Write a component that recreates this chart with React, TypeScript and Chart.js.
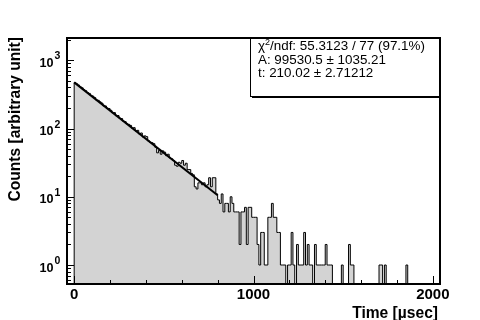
import React, { useEffect, useRef } from 'react';
import { Chart, registerables } from 'chart.js';

Chart.register(...registerables);

// ---- data ----
const binStart = 0;
const binWidth = 10;
const counts = [
  471, 452, 433, 408, 395, 370, 358, 336, 327, 305,
  298, 284, 262, 259, 246, 236, 215, 214, 198, 196,
  185, 170, 171, 154, 155, 141, 140, 128, 126, 117,
  115, 111, 101, 103, 92, 94, 83, 86, 75, 78,
  76, 66, 63, 62, 60, 53, 44, 48, 42, 47,
  45, 40, 42, 37, 36, 34, 29, 28, 32, 31,
  34, 29, 31, 25, 25, 22, 21, 14, 13, 16,
  16, 15, 16, 14, 15, 19, 14, 19, 19, 11,
  9, 8, 11, 6, 8, 8, 6, 10, 8, 6,
  6, 6, 2, 6, 6, 7, 2, 7, 7, 5,
  5, 5, 2, 1, 3, 3, 1, 1, 5, 5,
  8, 5, 5, 3, 3, 1, 1, 1, 0, 1,
  1, 3, 1, 0, 2, 1, 1, 1, 3, 1,
  2, 1, 1, 0, 2, 1, 1, 1, 1, 1,
  2, 1, 1, 1, 0, 0, 0, 0, 0, 1,
  0, 0, 0, 2, 1, 1, 0, 0, 0, 0,
  0, 0, 0, 0, 0, 0, 0, 0, 0, 0,
  1, 1, 0, 1, 0, 0, 0, 0, 0, 0,
  0, 0, 0, 0, 0, 1, 0, 0, 0, 0,
  0, 0, 0, 0, 0, 0, 0, 0, 0, 0,
];
const fitX = [0, 800];
const fitY = [474, 10.5];
const xRange = [-40, 2040];
const yRange = [0.527, 2120];
const xMajorTicks = [0, 1000, 2000];
const xTickLabels = ['0', '1000', '2000'];
const xMinorTicks = [200, 400, 600, 800, 1200, 1400, 1600, 1800];
const yDecades = [0, 1, 2, 3];
const yMinorMultipliers = [2, 3, 4, 5, 6, 7, 8, 9];
const xTitle = 'Time [\u00b5sec]';
const yTitle = 'Counts [arbitrary unit]';
const fitChi2 = '55.3123';
const fitNdf = '77';
const fitProb = '97.1%';
const parA = ['99530.5', '1035.21'];
const parT = ['210.02', '2.71212'];

const FONT = '"Liberation Sans", Arial, Helvetica, sans-serif';

const rootPlugin = {
  id: 'rootDecor',
  afterDatasetsDraw(chart: any) {
    const { ctx, chartArea: a, scales } = chart;
    const x = scales.x;
    const y = scales.y;
    ctx.save();
    ctx.strokeStyle = '#000';
    ctx.fillStyle = '#000';
    ctx.lineWidth = 1;
    ctx.beginPath();
    // x ticks (inward)
    xMajorTicks.forEach((v) => {
      const px = Math.round(x.getPixelForValue(v)) + 0.5;
      ctx.moveTo(px, a.bottom);
      ctx.lineTo(px, a.bottom - 8);
    });
    xMinorTicks.forEach((v) => {
      const px = Math.round(x.getPixelForValue(v)) + 0.5;
      ctx.moveTo(px, a.bottom);
      ctx.lineTo(px, a.bottom - 4);
    });
    // y ticks (inward)
    const decs = [yDecades[0] - 1, ...yDecades];
    decs.forEach((e) => {
      [1, ...yMinorMultipliers].forEach((m) => {
        const v = m * Math.pow(10, e);
        if (v < y.min || v > y.max) return;
        const py = Math.round(y.getPixelForValue(v)) + 0.5;
        ctx.moveTo(a.left, py);
        ctx.lineTo(a.left + (m === 1 ? 7 : 4), py);
      });
    });
    ctx.stroke();

    // stats box
    const bx1 = 250, bx2 = a.right, by1 = a.top, by2 = 97;
    ctx.fillStyle = '#fff';
    ctx.fillRect(bx1, by1, bx2 - bx1, by2 - by1);
    ctx.lineWidth = 1;
    ctx.strokeStyle = '#000';
    ctx.strokeRect(bx1 + 0.5, by1 + 0.5, bx2 - bx1 - 1, by2 - by1 - 1);
    ctx.fillStyle = '#000';
    ctx.fillRect(bx1 + 2, by2 - 1, bx2 - bx1 - 2, 2);

    // frame
    ctx.lineWidth = 2;
    ctx.strokeStyle = '#000';
    ctx.strokeRect(a.left, a.top, a.right - a.left, a.bottom - a.top);

    // stats text
    ctx.fillStyle = '#000';
    ctx.textAlign = 'left';
    ctx.textBaseline = 'alphabetic';
    const tx = 258;
    ctx.font = `13.4px ${FONT}`;
    ctx.fillText('\u03c7', tx, 50);
    const wChi = ctx.measureText('\u03c7').width;
    ctx.font = `9px ${FONT}`;
    ctx.fillText('2', tx + wChi, 45);
    const w2 = ctx.measureText('2').width;
    ctx.font = `13.4px ${FONT}`;
    ctx.fillText(`/ndf: ${fitChi2} / ${fitNdf} (${fitProb})`, tx + wChi + w2, 50);
    ctx.fillText(`A: ${parA[0]} \u00b1 ${parA[1]}`, tx, 63.5);
    ctx.fillText(`t: ${parT[0]} \u00b1 ${parT[1]}`, tx, 77);

    // x labels
    ctx.font = `bold 15px ${FONT}`;
    ctx.textAlign = 'center';
    xMajorTicks.forEach((v, i) => {
      ctx.fillText(xTickLabels[i], x.getPixelForValue(v), 298.5);
    });

    // y labels: 10^n
    yDecades.forEach((e) => {
      const py = y.getPixelForValue(Math.pow(10, e));
      ctx.font = `bold 12.6px ${FONT}`;
      ctx.textAlign = 'right';
      ctx.fillText('10', 53.5, py + 6.5);
      ctx.font = `bold 10.5px ${FONT}`;
      ctx.textAlign = 'left';
      ctx.fillText(String(e), 54.5, py - 1);
    });

    // axis titles
    ctx.font = `bold 15.6px ${FONT}`;
    ctx.textAlign = 'right';
    ctx.fillText(xTitle, 438, 318);
    ctx.save();
    ctx.translate(19.5, 37);
    ctx.rotate(-Math.PI / 2);
    ctx.textAlign = 'right';
    ctx.fillText(yTitle, 0, 0);
    ctx.restore();

    ctx.restore();
  },
};

export default function App() {
  const ref = useRef<HTMLCanvasElement | null>(null);
  useEffect(() => {
    if (!ref.current) return;
    const low = yRange[0] / 10;
    const histPoints = [
      { x: binStart, y: low },
      ...counts.map((c, i) => ({ x: binStart + i * binWidth, y: c > 0 ? c : low })),
      { x: binStart + counts.length * binWidth, y: low },
    ];
    const fitPoints = fitX.map((v, i) => ({ x: v, y: fitY[i] }));
    const chart = new Chart(ref.current, {
      type: 'line',
      data: {
        datasets: [
          {
            data: fitPoints,
            borderColor: '#000',
            borderWidth: 2,
            pointRadius: 0,
            fill: false,
            tension: 0,
            order: 0,
          },
          {
            data: histPoints,
            stepped: 'before',
            borderColor: '#000',
            borderWidth: 1,
            backgroundColor: '#d3d3d3',
            fill: 'start',
            pointRadius: 0,
            order: 1,
          },
        ],
      },
      options: {
        animation: false,
        responsive: false,
        devicePixelRatio: 1,
        events: [],
        layout: { padding: { left: 67, top: 38, right: 40, bottom: 36 } },
        scales: {
          x: { type: 'linear', min: xRange[0], max: xRange[1], display: false },
          y: { type: 'logarithmic', min: yRange[0], max: yRange[1], display: false },
        },
        plugins: { legend: { display: false }, tooltip: { enabled: false } },
      },
      plugins: [rootPlugin],
    } as any);
    return () => chart.destroy();
  }, []);
  return (
    <div style={{ position: 'absolute', left: 0, top: 0, width: 480, height: 320, background: '#fff' }}>
      <canvas ref={ref} width={480} height={320} style={{ display: 'block' }} />
    </div>
  );
}
